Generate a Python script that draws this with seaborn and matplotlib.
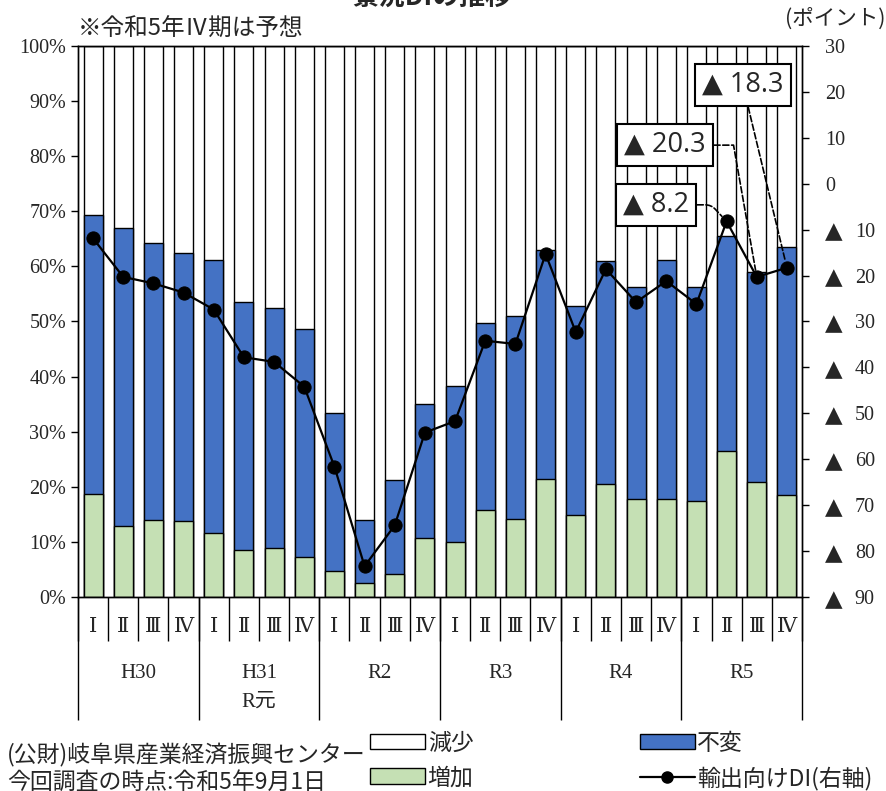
import numpy as np
import pandas as pd
import matplotlib
matplotlib.use("Agg")
import matplotlib.pyplot as plt
import seaborn as sns
from matplotlib.patches import Patch
from matplotlib.lines import Line2D

# data
quarters = ["Ⅰ", "Ⅱ", "Ⅲ", "Ⅳ"] * 6
years = ["H30", "H31\nR元", "R2", "R3", "R4", "R5"]
increase = [18.6, 12.9, 14.0, 13.8, 11.6, 8.5, 8.9, 7.2, 4.8, 2.5, 4.2, 10.7,
            9.9, 15.8, 14.1, 21.5, 14.8, 20.5, 17.7, 17.7, 17.5, 26.5, 20.9, 18.5]
unchanged = [50.8, 54.0, 50.3, 48.7, 49.6, 45.1, 43.5, 41.4, 28.5, 11.5, 17.0, 24.3,
             28.4, 34.0, 36.9, 41.5, 38.0, 40.5, 38.6, 43.4, 38.7, 39.0, 38.0, 45.0]
decrease = [30.6, 33.1, 35.7, 37.5, 38.8, 46.4, 47.6, 51.4, 66.7, 86.0, 78.8, 65.0,
            61.7, 50.2, 49.0, 37.0, 47.2, 39.0, 43.7, 38.9, 43.8, 34.5, 41.1, 36.5]
export_di = [-11.9, -20.3, -21.7, -23.7, -27.4, -37.8, -38.8, -44.2, -61.6, -83.3, -74.4, -54.2,
             -51.7, -34.2, -34.9, -15.3, -32.3, -18.6, -25.8, -21.2, -26.2, -8.2, -20.3, -18.3]
callouts = {21: "▲ 8.2", 22: "▲ 20.3", 23: "▲ 18.3"}
right_ticks = list(range(-90, 31, 10))

df = pd.DataFrame({"pos": range(24), "inc": increase, "unc": unchanged,
                   "dec": decrease, "di": export_di})
df["top_unc"] = df["inc"] + df["unc"]
df["top_all"] = df["top_unc"] + df["dec"]

sns.set_style("ticks")
serif = ["Liberation Serif", "DejaVu Serif", "Noto Sans CJK JP"]
jp = ["Noto Sans CJK JP", "DejaVu Sans"]
plt.rcParams["font.family"] = serif

fig = plt.figure(figsize=(8.86, 7.91), dpi=100)
ax = fig.add_axes([0.088, 0.2453, 0.8172, 0.6966])

# stacked bars (drawn back to front)
bar_kw = dict(edgecolor="black", linewidth=1, width=0.63, saturation=1, errorbar=None, ax=ax)
sns.barplot(data=df, x="pos", y="top_all", color="white", **bar_kw)
sns.barplot(data=df, x="pos", y="top_unc", color="#4472C4", **bar_kw)
sns.barplot(data=df, x="pos", y="inc", color="#C5E0B4", **bar_kw)

ax2 = ax.twinx()
sns.lineplot(data=df, x="pos", y="di", ax=ax2, color="black", marker="o",
             markersize=9.5, linewidth=1.6, markeredgecolor="black")

ax.set_xlim(-0.5, 23.5)
ax.set_ylim(0, 100)
ax2.set_ylim(-90, 30)
ax.set_xlabel("")
ax.set_ylabel("")
ax2.set_xlabel("")
ax2.set_ylabel("")

ax.set_yticks(range(0, 101, 10))
ax.set_yticklabels([f"{v}%" for v in range(0, 101, 10)], fontfamily=serif, fontsize=14.5)
ax.tick_params(axis="y", direction="out", length=5, width=1, color="black")

# right axis: negative values shown with a large triangle
ax2.set_yticks(right_ticks)
ax2.set_yticklabels([])
ax2.tick_params(axis="y", direction="out", length=5, width=1, color="black")
yt = ax2.get_yaxis_transform()
for v in right_ticks:
    if v >= 0:
        ax2.text(1.032, v, str(v), transform=yt, ha="left", va="center_baseline",
                 fontsize=14.5, fontfamily=serif)
    else:
        ax2.text(1.031, v, "▲", transform=yt, ha="left", va="center_baseline",
                 fontsize=16.5, fontfamily=["DejaVu Sans"])
        ax2.text(1.073, v, str(-v), transform=yt, ha="left", va="center_baseline",
                 fontsize=14.5, fontfamily=serif)

ax.set_xticks(range(24))
ax.set_xticklabels(quarters, fontfamily=serif, fontsize=15)
ax.tick_params(axis="x", length=0, pad=15)

for a in (ax, ax2):
    for s in a.spines.values():
        s.set_visible(True)
        s.set_color("black")
        s.set_linewidth(1)

# two-level category separators
xt = ax.get_xaxis_transform()
ax.vlines(np.arange(-0.5, 24, 1), -0.08, 0, transform=xt, clip_on=False, color="black", lw=1)
ax.vlines(np.arange(-0.5, 24, 4), -0.223, 0, transform=xt, clip_on=False, color="black", lw=1)
for i, y in enumerate(years):
    ax.text(4 * i + 1.5, -0.121, y, transform=xt, ha="center", va="top",
            fontsize=15, linespacing=1.75, fontfamily=serif)

# callouts for the latest quarters
box_pos = {21: (18.66, -4.6), 22: (18.96, 8.4), 23: (21.54, 21.5)}
conn = {21: "angle,angleA=0,angleB=133,rad=6",
        22: "angle,angleA=0,angleB=100,rad=0",
        23: "arc3,rad=0"}
for k, label in callouts.items():
    ax2.annotate(label, xy=(k, export_di[k]), xytext=box_pos[k], ha="center", va="center",
                 fontsize=19.5, family=["Open Sans", "DejaVu Sans"],
                 bbox=dict(boxstyle="square,pad=0.27", fc="white", ec="black", lw=1.5),
                 arrowprops=dict(arrowstyle="-", linestyle="--", color="black", lw=1.2,
                                 shrinkA=0, shrinkB=5, connectionstyle=conn[k]))

# texts
fig.text(0.488, 1.004, "景況DIの推移", ha="center", va="center", fontsize=19,
         fontweight="bold", family=jp)
fig.text(0.088, 0.963, "※令和5年Ⅳ期は予想", ha="left", va="center", fontsize=17, family=jp)
fig.text(0.999, 0.977, "(ポイント)", ha="right", va="center", fontsize=15.5, family=jp)
fig.text(0.008, 0.046, "(公財)岐阜県産業経済振興センター", ha="left", va="center",
         fontsize=16.5, family=jp)
fig.text(0.008, 0.011, "今回調査の時点:令和5年9月1日", ha="left", va="center",
         fontsize=16.5, family=jp)

handles = [Patch(fc="white", ec="black", lw=1),
           Patch(fc="#C5E0B4", ec="black", lw=1),
           Patch(fc="#4472C4", ec="black", lw=1),
           Line2D([], [], color="black", marker="o", markersize=8, lw=1.6)]
labels = ["減少", "増加", "不変", "輸出向けDI(右軸)"]
fig.legend(handles, labels, ncol=2, loc="upper left", bbox_to_anchor=(0.418, 0.075),
           frameon=False, handlelength=2.4, handleheight=0.65, handletextpad=0.1,
           columnspacing=7.25, labelspacing=0.5, borderaxespad=0, borderpad=0,
           prop={"family": jp, "size": 16.5})

fig.savefig("out.png", dpi=100)
